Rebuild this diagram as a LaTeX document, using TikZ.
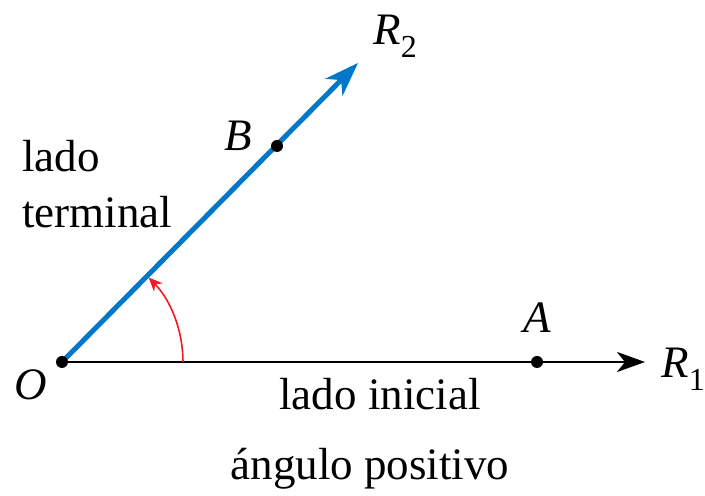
\documentclass[tikz,border=0pt]{standalone}
\usepackage{fontspec}
\setmainfont{Liberation Serif}
\usetikzlibrary{arrows.meta}
\definecolor{rayblue}{RGB}{0,119,200}
\definecolor{arcred}{RGB}{237,28,36}
\tikzset{
  lbl/.style={inner sep=0pt,font=\fontsize{22.5}{27}\selectfont},
  dotpt/.style={circle,fill=black,inner sep=0pt,minimum size=6pt},
}
\newcommand{\Rsub}[1]{\textit{R}\raisebox{-0.28em}{\fontsize{16}{18}\selectfont #1}}
\begin{document}
\begin{tikzpicture}[x=0.5pt,y=0.5pt]
\useasboundingbox (0,0) rectangle (705,496);
\coordinate (O) at (62,134);
\coordinate (R1) at (645,134);
\coordinate (R2) at (358,433);
\coordinate (arcS) at (183,134);
% initial side
\draw[line width=1.4pt,-{Stealth[length=14pt,width=10pt,inset=4pt]}] (O) -- (R1);
% terminal side
\draw[rayblue,line width=2.5pt,-{Stealth[length=17pt,width=12pt,inset=5pt]}] (O) -- (R2);
% angle arc
\draw[arcred,line width=0.8pt,-{Stealth[length=7pt,width=6pt]}] (arcS) arc[start angle=0,end angle=44.3,radius=60.5pt];
% points
\node[dotpt] (Od) at (O) {};
\node[dotpt] (A) at (537,134) {};
\node[dotpt] (B) at (277,350) {};
% labels
\node[lbl,anchor=base] (Ol) at (31,96) {\textit{O}};
\node[lbl,anchor=base] (Al) at (537,163) {\textit{A}};
\node[lbl,anchor=base] (Bl) at (238,345) {\textit{B}};
\node[lbl,anchor=base west] (R2l) at (373,451) {\Rsub{2}};
\node[lbl,anchor=base west] (R1l) at (661,118) {\Rsub{1}};
\node[lbl,anchor=base west] (t1) at (22,324) {lado};
\node[lbl,anchor=base west] (t2) at (22,268) {terminal};
\node[lbl,anchor=base] (t3) at (380,86) {lado inicial};
\node[lbl,anchor=base] (t4) at (370,16) {ángulo positivo};
\end{tikzpicture}
\end{document}
